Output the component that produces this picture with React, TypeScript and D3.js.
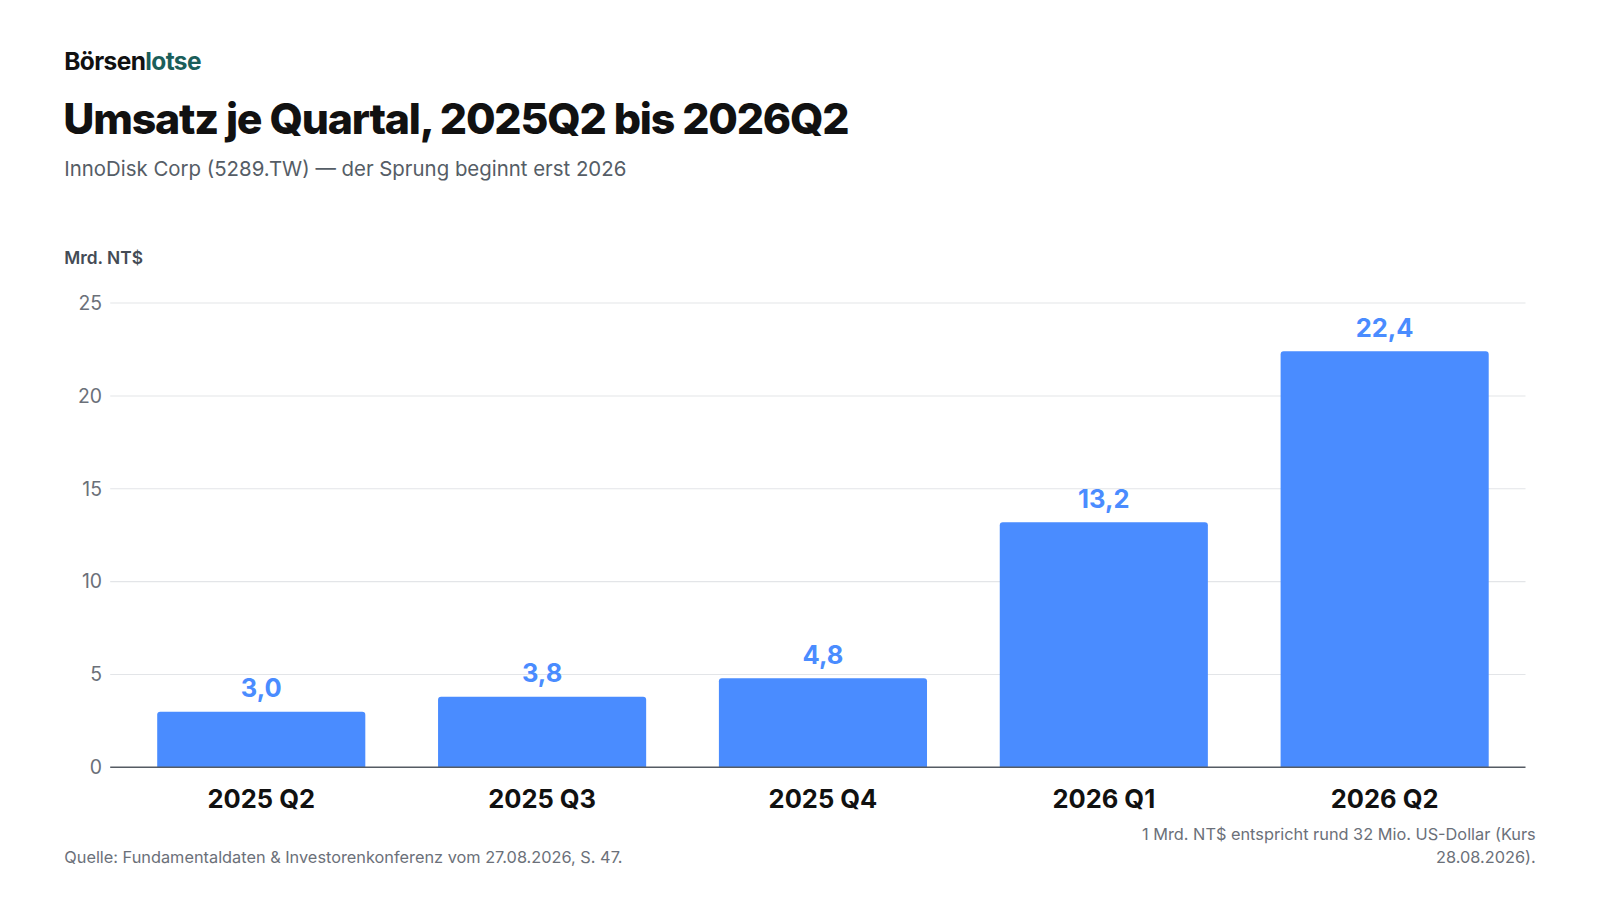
import * as d3 from 'd3'
import {useRef, useEffect} from 'react'

const categories = ['2025 Q2', '2025 Q3', '2025 Q4', '2026 Q1', '2026 Q2']
const revenue = [3.0, 3.8, 4.8, 13.2, 22.4]
const yTicks = [0, 5, 10, 15, 20, 25]

// layout measured on a 1568x882 grid, shown at 1600x900 via viewBox
const W = 1568
const H = 882
const margin = {left: 108, right: 73, top: 297, bottom: 130}
const BLUE = '#4a8cff'
const FONT = 'Inter, "Noto Sans", sans-serif'

export default function App() {
  const svgRef = useRef<SVGSVGElement>(null)

  useEffect(() => {
    const svg = d3.select(svgRef.current)
    svg.selectAll('*').remove()

    const x = d3.scaleBand().domain(categories).range([118, W - margin.right]).paddingInner(0.259).paddingOuter(0.131)
    const y = d3.scaleLinear().domain([0, 25]).range([H - margin.bottom, margin.top])

    svg.append('rect').attr('width', W).attr('height', H).attr('fill', '#fff')

    const brand = svg.append('text').attr('x', 63).attr('y', 69).attr('font-size', 24).attr('font-weight', 700).attr('font-family', FONT).attr('letter-spacing', -0.6)
    brand.append('tspan').attr('fill', '#111').text('Börsen')
    brand.append('tspan').attr('fill', '#1b5e5a').text('lotse')

    svg.append('text').attr('x', 62).attr('y', 131).attr('font-size', 42).attr('font-weight', 800).attr('letter-spacing', -1.2)
      .attr('font-family', FONT).attr('fill', '#111').text('Umsatz je Quartal, 2025Q2 bis 2026Q2')
    svg.append('text').attr('x', 63).attr('y', 172).attr('font-size', 20).attr('font-family', FONT).attr('fill', '#555d66')
      .text('InnoDisk Corp (5289.TW) — der Sprung beginnt erst 2026')
    svg.append('text').attr('x', 63).attr('y', 259).attr('font-size', 17).attr('font-weight', 600).attr('font-family', FONT).attr('fill', '#444b55')
      .text('Mrd. NT$')

    const g = svg.append('g')
    g.selectAll('line.grid').data(yTicks.slice(1)).enter().append('line')
      .attr('x1', margin.left).attr('x2', W - margin.right)
      .attr('y1', d => y(d)).attr('y2', d => y(d)).attr('stroke', '#e3e5e8').attr('stroke-width', 1)
    g.selectAll('text.tick').data(yTicks).enter().append('text')
      .attr('x', 100).attr('y', d => y(d)).attr('dy', '0.35em').attr('text-anchor', 'end')
      .attr('font-size', 19).attr('font-family', FONT).attr('fill', '#6b7079').text(d => d)

    const r = 3
    g.selectAll('path.bar').data(revenue).enter().append('path')
      .attr('fill', BLUE)
      .attr('d', (d, i) => {
        const x0 = x(categories[i])!, w = x.bandwidth(), y0 = y(0), y1 = y(d)
        return `M${x0},${y0}V${y1 + r}Q${x0},${y1} ${x0 + r},${y1}H${x0 + w - r}Q${x0 + w},${y1} ${x0 + w},${y1 + r}V${y0}Z`
      })
    g.selectAll('text.val').data(revenue).enter().append('text')
      .attr('x', (d, i) => x(categories[i])! + x.bandwidth() / 2).attr('y', d => y(d) - 14)
      .attr('text-anchor', 'middle').attr('font-size', 25).attr('font-weight', 700).attr('font-family', FONT).attr('fill', BLUE)
      .text(d => d.toFixed(1).replace('.', ','))

    g.append('line').attr('x1', margin.left).attr('x2', W - margin.right).attr('y1', y(0)).attr('y2', y(0))
      .attr('stroke', '#555b63').attr('stroke-width', 1.5)

    g.selectAll('text.cat').data(categories).enter().append('text')
      .attr('x', d => x(d)! + x.bandwidth() / 2).attr('y', 792).attr('text-anchor', 'middle')
      .attr('font-size', 25).attr('font-weight', 700).attr('font-family', FONT).attr('fill', '#111').text(d => d)

    svg.append('text').attr('x', 63).attr('y', 846).attr('font-size', 16).attr('font-family', FONT).attr('fill', '#6b7079')
      .text('Quelle: Fundamentaldaten & Investorenkonferenz vom 27.08.2026, S. 47.')
    const note = svg.append('text').attr('text-anchor', 'end').attr('font-size', 16).attr('font-family', FONT).attr('fill', '#6b7079')
    note.append('tspan').attr('x', 1505).attr('y', 823).text('1 Mrd. NT$ entspricht rund 32 Mio. US-Dollar (Kurs')
    note.append('tspan').attr('x', 1505).attr('y', 846).text('28.08.2026).')
  }, [])

  return <svg ref={svgRef} width={1600} height={900} viewBox={`0 0 ${W} ${H}`} style={{display: 'block', margin: -8}} />
}
